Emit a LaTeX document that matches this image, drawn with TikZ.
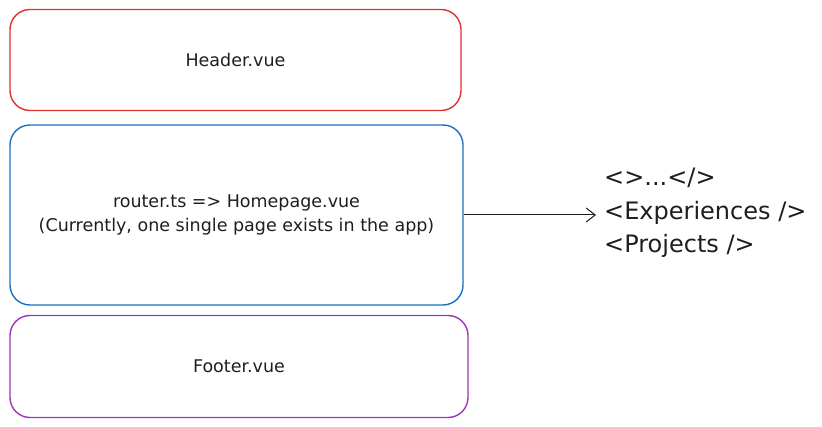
\documentclass[tikz,border=0pt]{standalone}
\usepackage{fontspec}
\setmainfont{DejaVu Sans}
\usetikzlibrary{arrows.meta}
\definecolor{xred}{HTML}{E03131}
\definecolor{xblue}{HTML}{1971C2}
\definecolor{xpurple}{HTML}{9C36B5}
\definecolor{xink}{HTML}{1E1E1E}
\begin{document}
\begin{tikzpicture}[
    x=1pt, y=-1pt,
    every node/.style={font=\fontsize{17.5}{24}\selectfont, text=xink},
    part/.style={draw, line width=1.4pt, rounded corners=20pt, align=center, inner sep=0pt},
    tags/.style={font=\fontsize{24}{33.5}\selectfont, align=left, anchor=west, inner sep=2pt},
    arr/.style={-{Straight Barb[length=9pt, width=14pt]}, line width=1pt, xink}
]
\useasboundingbox (0,0) rectangle (822,427);
% Header
\node[part, xred, minimum width=451pt, minimum height=101pt] (header) at (235.5,60) {\textcolor{xink}{Header.vue}};
% Homepage
\node[part, xblue, minimum width=453pt, minimum height=180pt] (home) at (236.5,215)
  {\textcolor{xink}{router.ts => Homepage.vue}\\\textcolor{xink}{(Currently, one single page exists in the app)}};
% Footer
\node[part, xpurple, minimum width=458pt, minimum height=102pt] (footer) at (239,366.5) {\textcolor{xink}{Footer.vue}};
% Components
\node[tags] (comps) at (602,213) {<>...</>\\<Experiences />\\<Projects />};

% Arrows
\draw[arr] (home.east) -- ([xshift=-6pt]comps.west |- home.east);
\end{tikzpicture}
\end{document}
